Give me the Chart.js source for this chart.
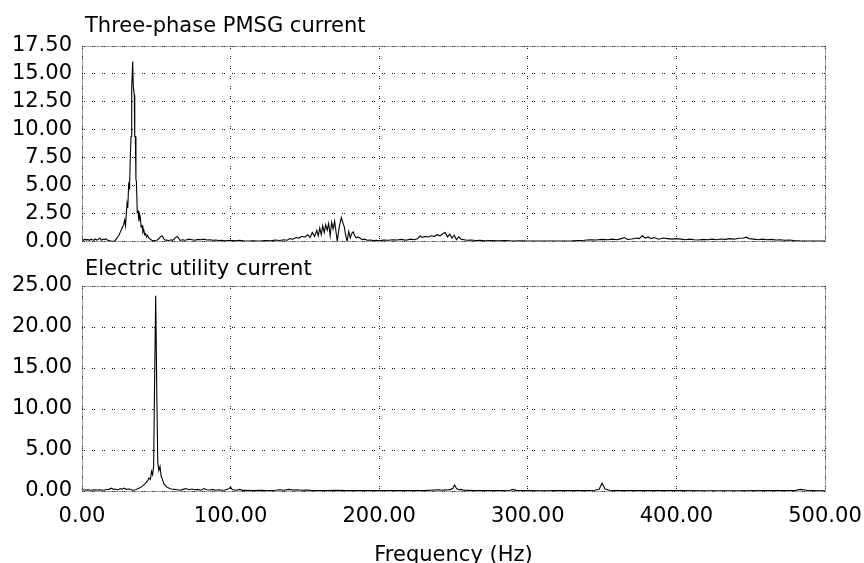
<!DOCTYPE html>
<html>
<head>
<meta charset="utf-8">
<script src="https://cdn.jsdelivr.net/npm/chart.js@4.4.1/dist/chart.umd.min.js"></script>
<style>
  html, body { margin: 0; padding: 0; background: #fff; overflow: hidden; }
  .panel { position: absolute; left: 0; width: 864px; }
  #top { top: 0; height: 264px; }
  #bottom { top: 256px; height: 312px; }
</style>
</head>
<body>
<div class="panel" id="top"><canvas id="chartTop"></canvas></div>
<div class="panel" id="bottom"><canvas id="chartBottom"></canvas></div>
<script>
// spectrum of the generator current (Hz / amplitude)
const freqTop = [
  0, 1, 2, 3, 4, 5, 6, 7, 8, 9, 10, 11, 12, 13, 14, 15, 16, 17, 18, 19, 20, 21, 22,
  23, 24, 25, 26, 27, 28, 28.7, 29.3, 29.8, 30.3, 30.8, 31.4, 32, 32.5, 33, 33.3, 33.6, 34.1,
  34.5, 35.2, 35.5, 35.9, 36.3, 36.6, 37.2, 37.7, 38.3, 38.8, 39.2, 39.8, 40.4, 41, 41.6,
  42.2, 42.8, 43.4, 44, 45, 46, 47, 48, 49, 50, 51, 52, 53, 54, 55, 56, 57, 58, 59, 60,
  61, 62, 63, 64, 65, 66, 67, 68, 69, 70, 72, 74, 76, 78, 80, 82, 84, 86, 88, 90, 92, 94,
  96, 98, 100, 103, 106, 109, 112, 115, 118, 121, 124, 127, 130, 133, 136, 138,
  140, 142, 144, 146, 148, 150, 152, 153.5, 155, 156.5, 158, 159, 160, 161, 162, 163, 164,
  165, 166, 167, 168, 169, 170, 171, 171.8, 173, 174.5, 175.5, 176.5, 177.5, 178.4, 179.5,
  180.5, 181.5, 182.5, 183.5, 184.5, 185.5, 187, 188.5, 190, 192, 194, 196, 198,
  200, 203, 206, 209, 212, 215, 218, 221, 224, 226, 227.5, 229, 231, 233, 235, 237, 239,
  241, 243, 244.5, 246, 247.5, 249, 250.5, 252, 253.5, 255, 257, 259, 262, 265, 268, 271,
  275, 280, 285, 290, 295, 300, 310, 320, 330, 338, 342, 346, 350, 354, 357, 360, 363, 365,
  367, 370, 373, 375, 377, 379, 381, 383, 385, 388, 391, 394, 397, 400, 403, 406, 409, 412,
  415, 418, 421, 424, 427, 430, 433, 436, 439, 442, 445, 447, 449, 452, 455, 458, 461, 464,
  467, 470, 473, 476, 479, 483, 490, 500
];
const ampTop = [
  0.15, 0.1, 0.2, 0.12, 0.18, 0.08, 0.2, 0.15, 0.1, 0.22, 0.12, 0.18, 0.3, 0.1, 0.2, 0.15, 0.25, 0.12, 0.08, 0.05, 0.02, 0, 0,
  0.2, 0.4, 0.6, 0.9, 1.2, 1.5, 1.9, 1.4, 2.4, 3.4, 3.0, 5.1, 4.8, 7.5, 9.4, 9.4, 13.7, 16.1,
  13.9, 13.1, 9.4, 9.4, 5.5, 5.4, 2.6, 2.7, 1.8, 2.4, 2.2, 1.3, 1.4, 0.8, 1.0,
  0.6, 0.7, 0.4, 0.55, 0.3, 0.2, 0.1, 0.05, 0.08, 0.1, 0.15, 0.3, 0.45, 0.5, 0.25, 0.1, 0.12, 0.08, 0.1, 0.15,
  0.1, 0.2, 0.35, 0.45, 0.3, 0.1, 0.12, 0.15, 0.1, 0.12, 0.2, 0.15, 0.1, 0.18, 0.15, 0.2, 0.12, 0.15, 0.1, 0.12, 0.08, 0.1,
  0.05, 0.08, 0.1, 0.05, 0.1, 0.06, 0.04, 0.06, 0.03, 0.05, 0.08, 0.05, 0.12, 0.08, 0.15, 0.1,
  0.25, 0.2, 0.35, 0.3, 0.45, 0.4, 0.6, 0.35, 0.8, 0.45, 1.0, 0.5, 1.2, 0.6, 1.4, 0.8, 1.5,
  1.0, 1.6, 0.5, 1.7, 1.1, 1.8, 0.8, 0, 1.2, 2.15, 1.7, 1.3, 0.5, 0, 0.9,
  0.3, 0.7, 0.85, 0.5, 0.3, 0.4, 0.3, 0.15, 0.2, 0.1, 0.12, 0.08, 0.1,
  0.05, 0.12, 0.1, 0.15, 0.12, 0.18, 0.1, 0.2, 0.15, 0.25, 0.5, 0.35, 0.45, 0.4, 0.5, 0.45, 0.6,
  0.5, 0.7, 0.8, 0.4, 0.65, 0.3, 0.55, 0.15, 0.4, 0.2, 0.15, 0.1, 0.12, 0.08, 0.1, 0.05,
  0.08, 0.05, 0.08, 0.04, 0.06, 0.03, 0.03, 0.04, 0.05, 0.1, 0.15, 0.12, 0.18, 0.15, 0.2, 0.15, 0.25, 0.35,
  0.18, 0.22, 0.3, 0.25, 0.5, 0.3, 0.4, 0.25, 0.35, 0.2, 0.3, 0.25, 0.2, 0.25, 0.2, 0.15, 0.2, 0.15,
  0.12, 0.18, 0.15, 0.2, 0.15, 0.22, 0.18, 0.25, 0.2, 0.28, 0.3, 0.38, 0.25, 0.2, 0.15, 0.2, 0.15, 0.18,
  0.12, 0.15, 0.1, 0.12, 0.08, 0.05, 0.03, 0.03
];

// spectrum of the grid current
const freqBottom = [
  0, 2, 4, 6, 8, 10, 12, 14, 16, 18, 20, 21, 22, 24, 26, 27, 28, 30, 32, 34, 36, 38, 40, 42,
  44, 45, 46, 46.8, 47.5, 48.2, 48.8, 49.6, 50.3, 51, 51.7, 52.5, 53.3, 54.2, 55, 56, 57, 58,
  59, 60, 62, 64, 66, 68, 70, 72, 74, 76, 78, 80, 82, 84, 86, 88, 90, 92, 94, 96, 98, 100,
  101, 102, 104, 106, 108, 110, 115, 120, 125, 130, 133, 136, 139, 142, 145, 148, 151, 154,
  158, 165, 170, 180, 190, 200, 210, 220, 230, 240, 242, 244, 246, 248, 249.5, 250.7, 252,
  253.5, 255, 257, 260, 265, 270, 280, 288, 290, 292, 300, 310, 320, 330, 340, 345, 348, 350,
  352, 355, 360, 380, 400, 420, 440, 460, 480, 483, 486, 489, 500
];
const ampBottom = [
  0.15, 0.12, 0.15, 0.1, 0.15, 0.12, 0.15, 0.1, 0.15, 0.2, 0.35, 0.2, 0.25, 0.15, 0.3, 0.2, 0.35, 0.2, 0.25, 0.1, 0.15, 0.3, 0.5, 0.8,
  1.2, 1.6, 1.4, 2.4, 2.0, 3.0, 12.5, 23.8, 12.5, 3.4, 2.5, 3.0, 1.8, 1.4, 0.9, 0.7, 0.5, 0.4,
  0.3, 0.25, 0.2, 0.15, 0.1, 0.2, 0.3, 0.15, 0.25, 0.15, 0.2, 0.1, 0.3, 0.15, 0.12, 0.2, 0.1, 0.15, 0.1, 0.12, 0.2, 0.45,
  0.2, 0.15, 0.1, 0.2, 0.08, 0.1, 0.05, 0.08, 0.05, 0.1, 0.15, 0.1, 0.2, 0.12, 0.15, 0.1, 0.12, 0.08,
  0.05, 0.05, 0.08, 0.05, 0.04, 0.05, 0.04, 0.05, 0.05, 0.15, 0.1, 0.15, 0.12, 0.2, 0.3, 0.75, 0.3,
  0.15, 0.2, 0.1, 0.08, 0.05, 0.04, 0.05, 0.1, 0.2, 0.08, 0.04, 0.03, 0.04, 0.05, 0.05, 0.1, 0.2, 0.95,
  0.25, 0.1, 0.05, 0.04, 0.04, 0.03, 0.03, 0.04, 0.05, 0.2, 0.15, 0.04, 0.03
];

const xTicks = [0, 100, 200, 300, 400, 500];
const yTicksTop = [0, 2.5, 5, 7.5, 10, 12.5, 15, 17.5];
const yTicksBottom = [0, 5, 10, 15, 20, 25];

const FONT = '"DejaVu Sans", sans-serif';
const gridColor = '#111';

// draws the panel heading just above the plot, and the dotted frame
const panelDecor = {
  id: 'panelDecor',
  afterDraw(chart, args, opts) {
    const { ctx, chartArea } = chart;
    ctx.save();
    ctx.strokeStyle = '#444';
    ctx.lineWidth = 1;
    ctx.setLineDash([1, 1]);
    ctx.strokeRect(Math.round(chartArea.left) + 0.5, Math.round(chartArea.top) + 0.5,
      Math.round(chartArea.right - chartArea.left), Math.round(chartArea.bottom - chartArea.top));
    ctx.setLineDash([]);
    ctx.font = '21px ' + FONT;
    ctx.fillStyle = '#000';
    ctx.textBaseline = 'alphabetic';
    ctx.fillText(opts.text, chartArea.left + 3, chartArea.top - opts.gap);
    ctx.restore();
  }
};

function makePanel(canvasId, freqs, amps, yTicks, yMax, title, gap, showX) {
  const points = freqs.map((f, i) => ({ x: f, y: amps[i] }));
  return new Chart(document.getElementById(canvasId), {
    type: 'line',
    data: {
      datasets: [{
        data: points,
        borderColor: '#000',
        borderWidth: 1.1,
        pointRadius: 0,
        tension: 0,
        fill: false
      }]
    },
    options: {
      responsive: true,
      maintainAspectRatio: false,
      animation: false,
      events: [],
      layout: {
        padding: showX ? { top: 30, right: 39, bottom: 0, left: 0 } : { top: 46, right: 39, bottom: 14, left: 0 }
      },
      plugins: {
        legend: { display: false },
        tooltip: { enabled: false },
        panelDecor: { text: title, gap: gap }
      },
      scales: {
        x: {
          type: 'linear',
          min: 0,
          max: 500,
          afterBuildTicks: (axis) => { axis.ticks = xTicks.map(v => ({ value: v })); },
          afterFit: (axis) => {
            axis.height = showX ? 77 : 0;
            axis.paddingLeft = 0;
            axis.paddingRight = 0;
          },
          grid: { color: gridColor, drawTicks: false },
          border: { display: false, dash: [1, 1, 1, 7] },
          ticks: {
            display: showX,
            autoSkip: false,
            maxRotation: 0,
            padding: 13,
            color: '#000',
            font: { family: FONT, size: 21 },
            callback: (v) => v.toFixed(2)
          },
          title: {
            display: showX,
            text: 'Frequency (Hz)',
            color: '#000',
            font: { family: FONT, size: 21 },
            padding: { top: 0, bottom: 0 }
          }
        },
        y: {
          min: 0,
          max: yMax,
          afterBuildTicks: (axis) => { axis.ticks = yTicks.map(v => ({ value: v })); },
          afterFit: (axis) => { axis.width = 82; },
          grid: { color: gridColor, drawTicks: false },
          border: { display: false, dash: [1, 1, 1, 7] },
          ticks: {
            padding: 10,
            color: '#000',
            font: { family: FONT, size: 21 },
            callback: (v) => v.toFixed(2)
          }
        }
      }
    },
    plugins: [panelDecor]
  });
}

makePanel('chartTop', freqTop, ampTop, yTicksTop, 17.5, 'Three-phase PMSG current', 14, false);
makePanel('chartBottom', freqBottom, ampBottom, yTicksBottom, 25, 'Electric utility current', 11, true);
</script>
</body>
</html>
